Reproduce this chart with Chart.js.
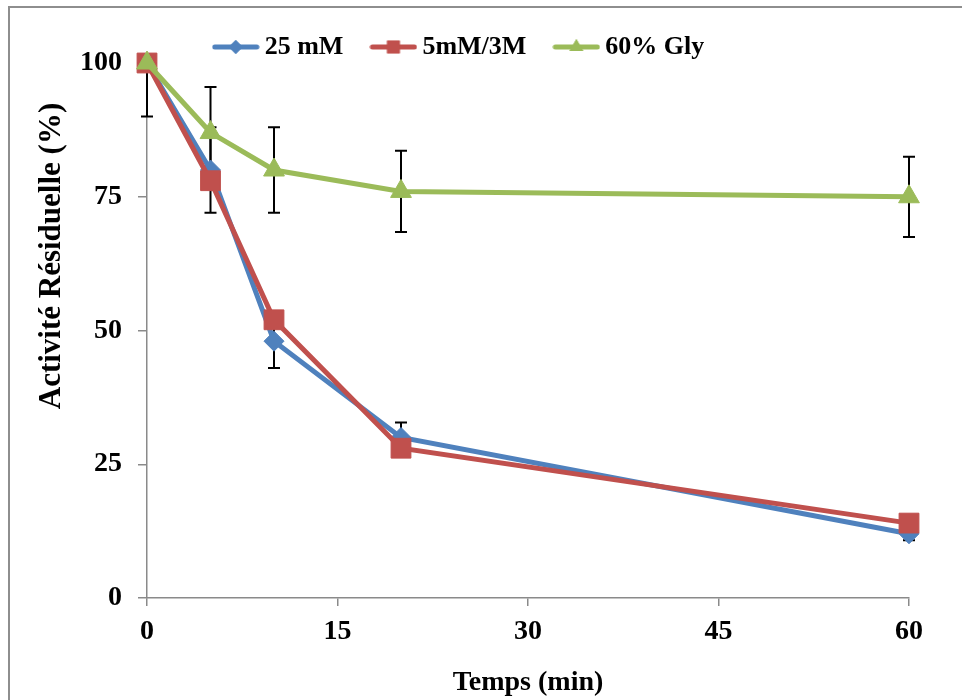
<!DOCTYPE html>
<html lang="fr">
<head>
<meta charset="UTF-8">
<title>Activité résiduelle</title>
<script src="https://cdn.jsdelivr.net/npm/chart.js@4.4.1/dist/chart.umd.min.js"></script>
<style>
  html, body { margin: 0; padding: 0; background: #fff; overflow: hidden; }
  #frame { position: absolute; left: 8px; top: 6px; width: 1000px; height: 1000px; border: 2px solid #8e8e8e; }
  #wrap { position: absolute; left: 0; top: 0; width: 962px; height: 700px; }
</style>
</head>
<body>
<div id="frame"></div>
<div id="wrap"><canvas id="chart" width="962" height="700"></canvas></div>
<script>
// data
const times = [0, 5, 10, 20, 60];
const series25mM = [100, 80, 48, 30, 12];
const series5mM3M = [100, 78, 52, 28, 14];
const seriesGly = [100, 87, 80, 76, 75];
const err25mM = [10, 8, 5, 2.8, 1.2];
const err5mM3M = [0, 0, 0, 0, 0];
const errGly = [0, 8.5, 8, 7.6, 7.5];
const xTicks = [0, 15, 30, 45, 60];
const yTicks = [0, 25, 50, 75, 100];

const FONT = '"Liberation Serif", "Times New Roman", serif';
const BLUE = '#4f81bd', RED = '#c0504d', GREEN = '#9bbb59';
const AXIS = '#8a8a8a';

function points(values) {
    return times.map((t, i) => ({ x: t, y: values[i] }));
}

// little line + marker pictures for the legend
function legendIcon(color, style, radius) {
    const c = document.createElement('canvas');
    c.width = 48; c.height = 26;
    const g = c.getContext('2d');
    g.strokeStyle = color;
    g.lineWidth = 5;
    g.lineCap = 'round';
    g.beginPath(); g.moveTo(3, 13); g.lineTo(45, 13); g.stroke();
    g.fillStyle = color;
    Chart.helpers.drawPoint(g, { pointStyle: style, radius: radius, rotation: 0, borderWidth: 0 }, 24, 13);
    g.fill();
    return c;
}

// error bars, cut off above the top of the plot like the original
const errorBars = {
    id: 'errorBars',
    beforeDatasetsDraw(chart) {
        const { ctx, chartArea, scales: { x, y } } = chart;
        ctx.save();
        ctx.beginPath();
        ctx.rect(chartArea.left - 20, chartArea.top, chartArea.width + 40, chartArea.height);
        ctx.clip();
        ctx.strokeStyle = '#000';
        ctx.lineWidth = 2;
        chart.data.datasets.forEach(ds => {
            ds.errors.forEach((e, i) => {
                if (!e) return;
                const px = x.getPixelForValue(times[i]);
                const top = y.getPixelForValue(ds.data[i].y + e);
                const bot = y.getPixelForValue(ds.data[i].y - e);
                ctx.beginPath();
                ctx.moveTo(px, top); ctx.lineTo(px, bot);
                ctx.moveTo(px - 6, top); ctx.lineTo(px + 6, top);
                ctx.moveTo(px - 6, bot); ctx.lineTo(px + 6, bot);
                ctx.stroke();
            });
        });
        ctx.restore();
    }
};

const yTitle = {
    id: 'yTitle',
    afterDraw(chart) {
        const ctx = chart.ctx;
        ctx.save();
        ctx.translate(52, 256);
        ctx.rotate(-Math.PI / 2);
        ctx.font = 'bold 31px ' + FONT;
        ctx.fillStyle = '#000';
        ctx.textAlign = 'center';
        ctx.textBaseline = 'middle';
        ctx.fillText('Activité Résiduelle (%)', 0, 0);
        ctx.restore();
    }
};

const icons = [legendIcon(BLUE, 'rectRot', 7), legendIcon(RED, 'rect', 9), legendIcon(GREEN, 'triangle', 8)];

new Chart(document.getElementById('chart'), {
    type: 'line',
    data: {
        datasets: [
            { label: '25 mM', data: points(series25mM), errors: err25mM, borderColor: BLUE, backgroundColor: BLUE,
              pointStyle: 'rectRot', pointRadius: 10, order: 3 },
            { label: '5mM/3M', data: points(series5mM3M), errors: err5mM3M, borderColor: RED, backgroundColor: RED,
              pointStyle: 'rect', pointRadius: 14, order: 2 },
            { label: '60% Gly', data: points(seriesGly), errors: errGly, borderColor: GREEN, backgroundColor: GREEN,
              pointStyle: 'triangle', pointRadius: 12, order: 1 }
        ].map(ds => Object.assign(ds, { borderWidth: 5, tension: 0, pointBorderWidth: 1, pointBorderColor: ds.borderColor, clip: false }))
    },
    options: {
        responsive: false,
        animation: false,
        layout: { padding: { left: 0, top: 0, right: 38, bottom: 0 } },
        plugins: {
            tooltip: { enabled: false },
            legend: {
                position: 'top',
                align: 'center',
                maxHeight: 63,
                labels: {
                    usePointStyle: true,
                    pointStyleWidth: 32,
                    padding: 34,
                    color: '#000',
                    font: { family: FONT, size: 26, weight: 'bold' },
                    generateLabels: chart => chart.data.datasets.map((ds, i) => ({
                        text: ds.label, pointStyle: icons[i], fillStyle: ds.borderColor,
                        strokeStyle: ds.borderColor, lineWidth: 0, hidden: false, datasetIndex: i
                    }))
                }
            }
        },
        scales: {
            x: {
                type: 'linear', min: 0, max: 60,
                afterBuildTicks: s => { s.ticks = xTicks.map(v => ({ value: v })); },
                afterFit: s => { s.height = 102; s.paddingRight = 53; },
                grid: { drawOnChartArea: false, color: AXIS, tickLength: 8, lineWidth: 1.5 },
                border: { color: AXIS, width: 1.5 },
                ticks: { color: '#000', padding: 9, font: { family: FONT, size: 28, weight: 'bold' } },
                title: { display: true, text: 'Temps (min)', color: '#000', padding: 0,
                         font: { family: FONT, size: 28, weight: 'bold' } }
            },
            y: {
                type: 'linear', min: 0, max: 100,
                afterBuildTicks: s => { s.ticks = yTicks.map(v => ({ value: v })); },
                afterFit: s => { s.width = 147; },
                grid: { drawOnChartArea: false, color: AXIS, tickLength: 9, lineWidth: 1.5 },
                border: { color: AXIS, width: 1.5 },
                ticks: { color: '#000', padding: 16, font: { family: FONT, size: 28, weight: 'bold' } }
            }
        }
    },
    plugins: [errorBars, yTitle]
});
</script>
</body>
</html>
